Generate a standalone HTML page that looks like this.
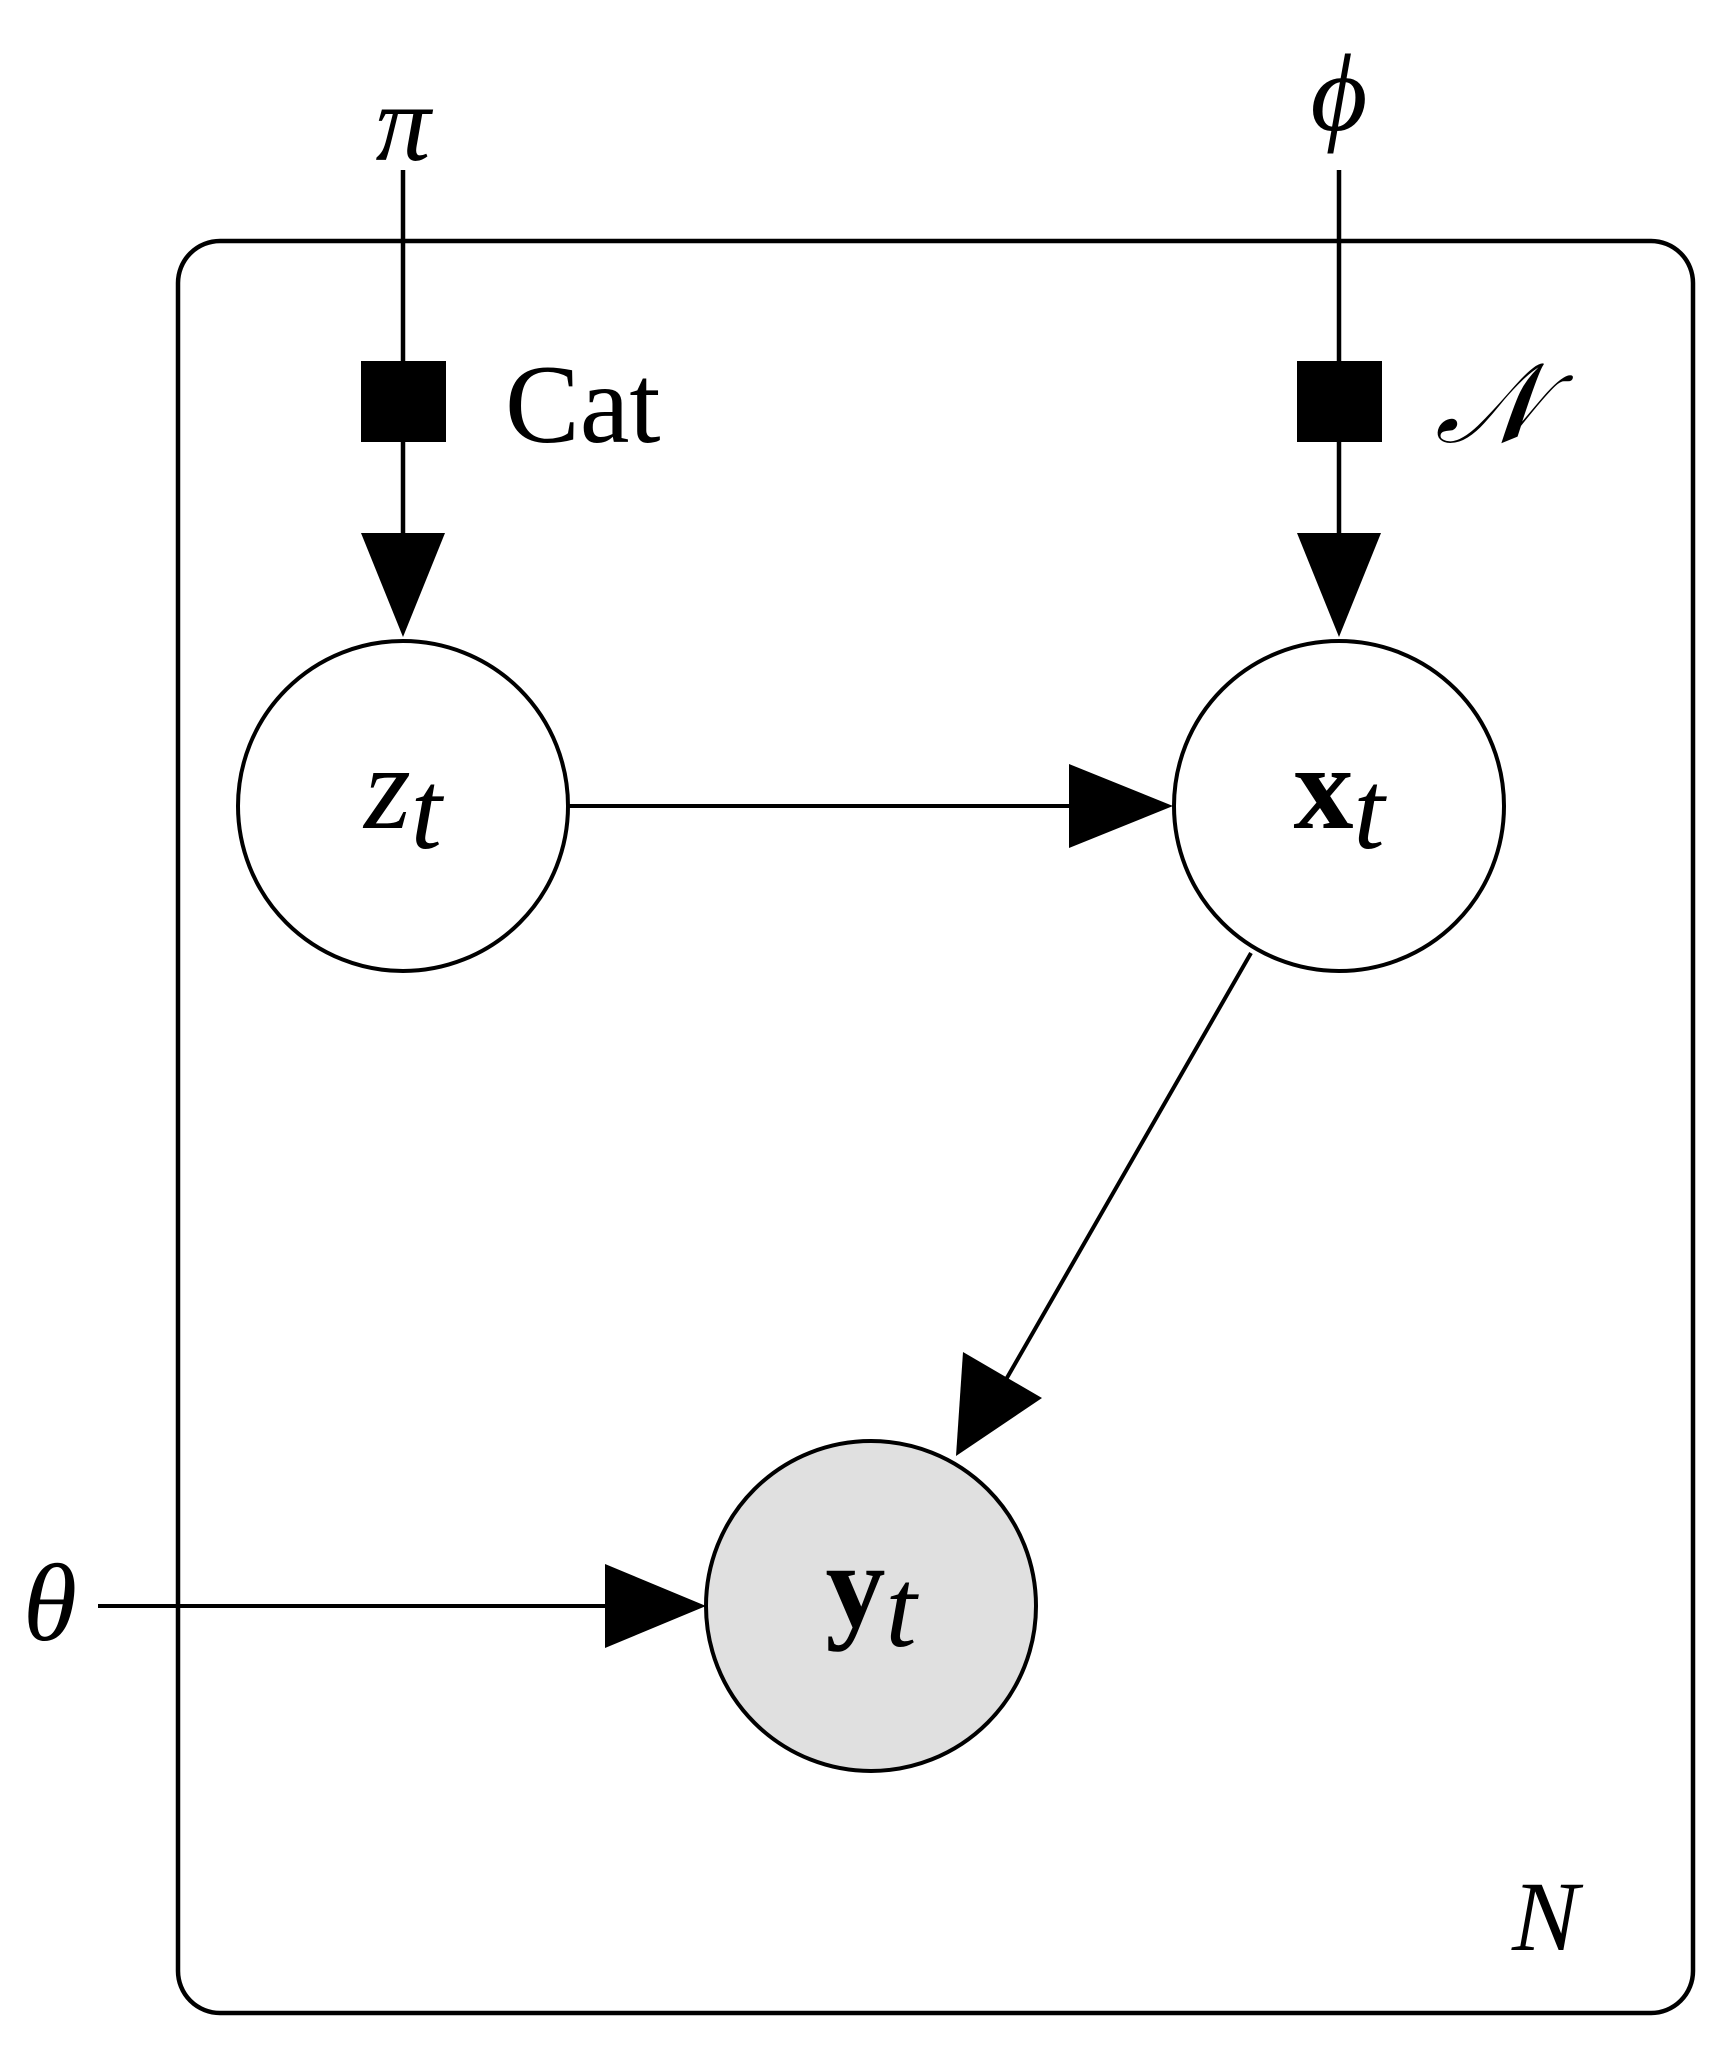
<!DOCTYPE html>
<html><head><style>html,body{margin:0;padding:0;background:#fff}</style></head>
<body>
<svg width="1719" height="2040" viewBox="0 0 1719 2040" xmlns="http://www.w3.org/2000/svg" font-family="Liberation Serif, serif">
<rect x="178" y="241" width="1515" height="1772" rx="42" ry="42" fill="none" stroke="#000" stroke-width="4.5"/>
<line x1="403" y1="170" x2="403" y2="560" stroke="#000" stroke-width="4.5"/>
<rect x="361" y="361" width="85" height="81" fill="#000"/>
<polygon points="361,533 445,533 403,637" fill="#000"/>
<line x1="1339" y1="170" x2="1339" y2="560" stroke="#000" stroke-width="4.5"/>
<rect x="1297" y="361" width="85" height="81" fill="#000"/>
<polygon points="1297,533 1381,533 1339,637" fill="#000"/>
<line x1="568" y1="806" x2="1080" y2="806" stroke="#000" stroke-width="4"/>
<polygon points="1069,764 1069,848 1173,806" fill="#000"/>
<line x1="1251" y1="953" x2="1000" y2="1390" stroke="#000" stroke-width="4"/>
<polygon points="963,1352 1042,1398 956,1456" fill="#000"/>
<line x1="98" y1="1606" x2="620" y2="1606" stroke="#000" stroke-width="4"/>
<polygon points="605,1564 605,1648 706,1606" fill="#000"/>
<circle cx="403" cy="806" r="165" fill="#fff" stroke="#000" stroke-width="4"/>
<circle cx="1339" cy="806" r="165" fill="#fff" stroke="#000" stroke-width="4"/>
<circle cx="871" cy="1606" r="165" fill="#e0e0e0" stroke="#000" stroke-width="4"/>
<text x="403" y="160" font-size="110" font-style="italic" text-anchor="middle">π</text>
<text x="1339" y="130" font-size="110" font-style="italic" text-anchor="middle">ϕ</text>
<text x="505" y="442" font-size="112">Cat</text>
<text x="1435" y="442" font-size="112" font-style="italic">𝒩</text>
<text x="50" y="1640" font-size="110" font-style="italic" text-anchor="middle">θ</text>
<text x="1512" y="1950" font-size="100" font-style="italic">N</text>
<text x="403" y="828" font-size="120" font-style="italic" text-anchor="middle">z<tspan font-size="112" dy="20">t</tspan></text>
<text x="1339" y="828" font-size="120" font-weight="bold" text-anchor="middle">x<tspan font-size="112" dy="20" font-weight="normal" font-style="italic">t</tspan></text>
<text x="871" y="1626" font-size="120" font-weight="bold" text-anchor="middle">y<tspan font-size="112" dy="20" font-weight="normal" font-style="italic">t</tspan></text>
</svg>
</body></html>
